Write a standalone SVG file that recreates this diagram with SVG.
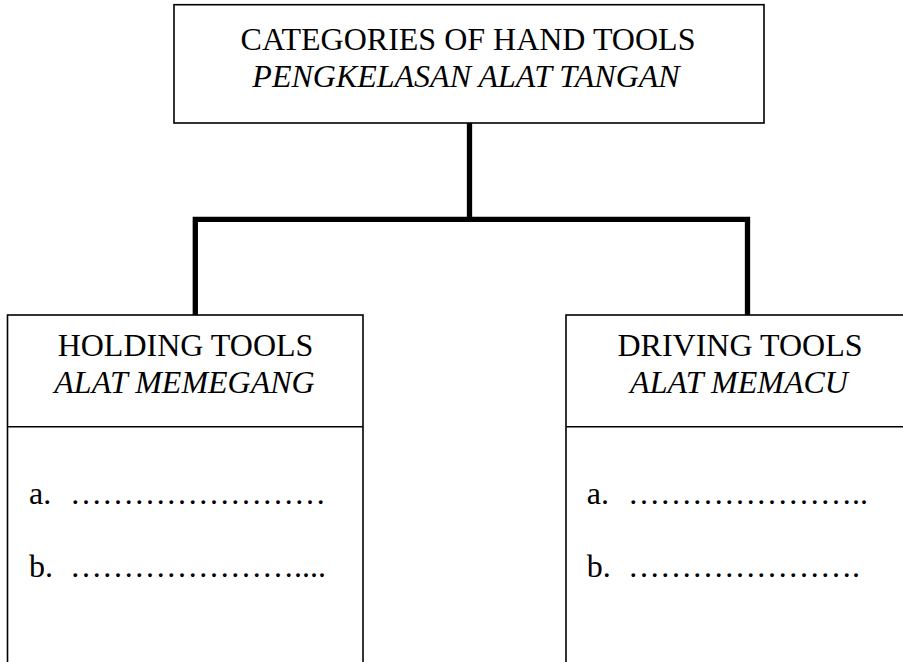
<svg xmlns="http://www.w3.org/2000/svg" width="903" height="662" viewBox="0 0 903 662">
  <style>
    .box { fill: #fff; stroke: #000; stroke-width: 1.6; }
    .rule { stroke: #000; stroke-width: 1.6; }
    .link { fill: none; stroke: #000; stroke-width: 5.3; stroke-linejoin: miter; stroke-linecap: butt; }
    .t { font-family: "Liberation Serif", "Times New Roman", serif; font-size: 32px; fill: #000; }
    .c { text-anchor: middle; }
    .i { font-style: italic; }
  </style>
  <rect width="903" height="662" fill="#fff"/>

  <!-- tree connectors -->
  <g id="connectors">
    <path class="link" d="M469.5 123 V219.3"/>
    <path class="link" d="M195.3 315 V219.3 H747.5 V315"/>
  </g>

  <!-- root -->
  <g id="root">
    <rect class="box" x="174" y="4.7" width="590" height="118.3"/>
    <text class="t c" x="468" y="50">CATEGORIES OF HAND TOOLS</text>
    <text class="t c i" x="466" y="87">PENGKELASAN ALAT TANGAN</text>
  </g>

  <!-- holding tools -->
  <g id="holding">
    <rect class="box" x="7.5" y="315" width="355.5" height="360"/>
    <line class="rule" x1="7.5" y1="426.7" x2="363" y2="426.7"/>
    <text class="t c" x="185.5" y="356">HOLDING TOOLS</text>
    <text class="t c i" x="184.5" y="392.7">ALAT MEMEGANG</text>
    <text class="t" x="29" y="504">a.<tspan x="70">……………………</tspan></text>
    <text class="t" x="29" y="576.7">b.<tspan x="70">…………………....</tspan></text>
  </g>

  <!-- driving tools -->
  <g id="driving">
    <rect class="box" x="566" y="315" width="350" height="360"/>
    <line class="rule" x1="566" y1="426.7" x2="916" y2="426.7"/>
    <text class="t c" x="740" y="356">DRIVING TOOLS</text>
    <text class="t c i" x="739" y="392.7">ALAT MEMACU</text>
    <text class="t" x="586.7" y="504">a.<tspan x="628">…………………..</tspan></text>
    <text class="t" x="586.7" y="576.7">b.<tspan x="628">………………….</tspan></text>
  </g>
</svg>
